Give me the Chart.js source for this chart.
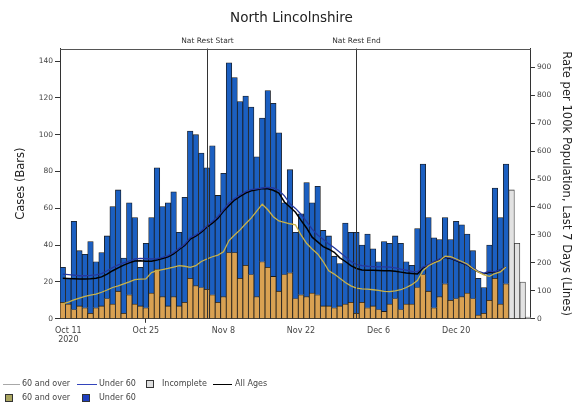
<!DOCTYPE html>
<html><head><meta charset="utf-8">
<script src="https://cdn.jsdelivr.net/npm/chart.js@4.4.1/dist/chart.umd.min.js"></script>
<style>
html,body{margin:0;padding:0;background:#fff;}
#wrap{position:relative;width:573px;height:410px;}
#legend{position:absolute;left:0;top:0;width:573px;height:410px;pointer-events:none;font-family:"DejaVu Sans",sans-serif;font-size:8px;color:#444;}
#legend span{position:absolute;white-space:nowrap;line-height:10px;}
.ln{position:absolute;height:0;}
.sq{position:absolute;width:6px;height:6px;border:1px solid #333;}
</style></head><body>
<div id="wrap"><canvas id="c"></canvas>
<div id="legend">
  <div class="ln" style="left:3px;top:384px;width:17px;border-top:1px solid #a8a8a8"></div><span style="left:22px;top:379px">60 and over</span>
  <div class="ln" style="left:77px;top:384px;width:20px;border-top:1px solid #3344bb"></div><span style="left:99px;top:379px">Under 60</span>
  <div class="sq" style="left:146px;top:380px;background:#dedede"></div><span style="left:162px;top:379px">Incomplete</span>
  <div class="ln" style="left:213px;top:384px;width:19px;border-top:1.5px solid #000"></div><span style="left:235px;top:379px">All Ages</span>
  <div class="sq" style="left:5px;top:394px;background:#aaa660"></div><span style="left:22px;top:393px">60 and over</span>
  <div class="sq" style="left:82px;top:394px;background:#1f3fc0"></div><span style="left:99px;top:393px">Under 60</span>
</div>
</div>
<script>
// Categories: one per day starting 2020-10-10
const startDate = [2020, 9, 10];
const nDays = 85;
const categories = Array.from({length: nDays}, (_, i) =>
  new Date(Date.UTC(startDate[0], startDate[1], startDate[2] + i)).toISOString().slice(0, 10));

// Daily cases (bars)
const casesOver60 = [9,8,5,7,6,3,6,7,11,8,15,3,13,8,7,6,14,27,12,7,12,7,9,22,18,17,16,13,9,12,
  36,36,22,29,24,12,31,28,23,15,24,25,11,13,12,14,13,7,7,6,7,8,9,3,9,6,7,5,4,8,
  11,5,8,8,17,24,15,6,12,19,10,11,12,14,11,2,3,10,22,8,19,null,null,null,null];
const casesUnder60 = [19,14,48,30,29,39,25,29,34,53,55,30,50,47,21,35,41,55,49,56,57,40,57,80,82,73,66,81,58,67,
  103,95,96,92,91,76,78,96,94,86,39,56,36,44,62,49,59,41,38,28,23,44,38,44,31,40,31,26,38,33,
  34,36,23,21,32,60,40,38,31,36,33,42,39,32,26,20,14,30,49,47,65,null,null,null,null];
const casesIncomplete = [null,null,null,null,null,null,null,null,null,null,null,null,null,null,null,null,null,null,null,null,
  null,null,null,null,null,null,null,null,null,null,null,null,null,null,null,null,null,null,null,null,
  null,null,null,null,null,null,null,null,null,null,null,null,null,null,null,null,null,null,null,null,
  null,null,null,null,null,null,null,null,null,null,null,null,null,null,null,null,null,null,null,null,
  null,70,41,20,1];

// Rate per 100k, last 7 days (lines)
const rateOver60 = [53,60,68,74,80,85,88,95,103,112,118,125,132,140,142,143,165,172,176,180,
  185,190,188,184,190,205,214,222,228,240,280,300,318,340,360,385,410,390,365,350,
  345,340,336,300,270,250,232,205,172,160,145,130,118,110,107,106,104,102,98,97,
  100,104,112,122,137,172,190,200,208,224,222,214,205,196,180,168,157,152,162,168,185];
const rateUnder60 = [160,158,156,154,154,155,157,162,172,183,193,200,206,214,216,215,214,215,220,226,
  237,252,267,290,300,314,332,348,366,390,414,430,443,455,462,465,468,470,468,460,
  440,412,395,374,348,321,300,285,268,254,238,222,205,195,190,188,187,186,186,185,
  182,178,174,170,168,185,194,206,214,222,218,210,203,193,182,170,163,170,168,176,185];
const rateAllAges = [145,144,143,142,142,143,145,150,160,172,182,192,200,207,208,206,206,210,216,222,
  232,248,262,285,296,310,328,342,360,385,405,425,438,450,458,462,466,465,460,450,
  418,400,381,352,325,292,275,258,249,238,218,205,190,180,175,174,174,173,172,172,
  170,167,164,162,160,182,192,203,212,220,216,208,200,192,180,168,160,166,167,175,185];

// Tick labels and events
const xTickDates = ['2020-10-11','2020-10-25','2020-11-08','2020-11-22','2020-12-06','2020-12-20'];
const xTickLabels = [['Oct 11','2020'],'Oct 25','Nov 8','Nov 22','Dec 6','Dec 20'];
const eventDates = ['2020-11-05','2020-12-02'];
const eventLabels = ['Nat Rest Start','Nat Rest End'];

const FONT = '"DejaVu Sans", sans-serif';

const framePlugin = {
  id: 'frame',
  afterDatasetsDraw(chart) {
    const {ctx, chartArea: {top, bottom, left, right}, scales: {x}} = chart;
    ctx.save();
    eventDates.forEach((d, k) => {
      const px = Math.round(x.getPixelForValue(categories.indexOf(d))) + 0.5;
      ctx.strokeStyle = '#333';
      ctx.lineWidth = 1;
      ctx.beginPath(); ctx.moveTo(px, top); ctx.lineTo(px, bottom); ctx.stroke();
      ctx.fillStyle = '#333';
      ctx.font = '7.5px ' + FONT;
      ctx.textAlign = 'center';
      ctx.textBaseline = 'bottom';
      ctx.fillText(eventLabels[k], px, top - 4);
    });
    ctx.strokeStyle = '#555';
    ctx.lineWidth = 1;
    ctx.beginPath();
    ctx.moveTo(left, Math.round(top) + 0.5);
    ctx.lineTo(right, Math.round(top) + 0.5);
    ctx.stroke();
    ctx.restore();
  }
};

const barCommon = {
  type: 'bar', yAxisID: 'y', stack: 'cases', order: 2,
  borderColor: '#1a1a1a', borderWidth: 0.8,
  barPercentage: 1, categoryPercentage: 1
};
const lineCommon = {
  type: 'line', yAxisID: 'y1', order: 0, pointRadius: 0, borderWidth: 1.3, tension: 0, fill: false
};

new Chart(document.getElementById('c'), {
  type: 'bar',
  data: {
    labels: categories,
    datasets: [
      Object.assign({}, barCommon, {label: '60 and over', data: casesOver60, backgroundColor: '#d9a152'}),
      Object.assign({}, barCommon, {label: 'Under 60', data: casesUnder60, backgroundColor: '#1b5fc1'}),
      Object.assign({}, barCommon, {label: 'Incomplete', data: casesIncomplete, backgroundColor: '#e2e2e2', borderColor: '#333'}),
      Object.assign({}, lineCommon, {label: '60 and over rate', data: rateOver60, borderColor: '#c8b24a'}),
      Object.assign({}, lineCommon, {label: 'Under 60 rate', data: rateUnder60, borderColor: '#24389f'}),
      Object.assign({}, lineCommon, {label: 'All Ages', data: rateAllAges, borderColor: '#000000', borderWidth: 1.5})
    ]
  },
  options: {
    responsive: true,
    maintainAspectRatio: false,
    animation: false,
    layout: {padding: {left: 10, right: 0, top: 0, bottom: 62}},
    plugins: {
      legend: {display: false},
      tooltip: {enabled: false},
      title: {
        display: true, text: 'North Lincolnshire', color: '#222',
        font: {family: FONT, size: 13.5, weight: 'normal'},
        padding: {top: 10, bottom: 22.3}
      }
    },
    scales: {
      x: {
        type: 'category', stacked: true, offset: true,
        grid: {offset: false, drawOnChartArea: false, tickLength: 4,
          tickColor: (c) => (c.index !== undefined && xTickDates.includes(categories[c.index])) ? '#333' : 'rgba(0,0,0,0)'},
        border: {display: true, color: '#333'},
        ticks: {
          autoSkip: false, maxRotation: 0, minRotation: 0, padding: 3,
          color: '#444', font: {family: FONT, size: 8},
          callback: (v, i) => { const k = xTickDates.indexOf(categories[i]); return k >= 0 ? xTickLabels[k] : null; }
        }
      },
      y: {
        position: 'left', stacked: true, min: 0, max: 146.8,
        grid: {drawOnChartArea: false, tickLength: 5, tickColor: '#333'},
        border: {display: true, color: '#333'},
        ticks: {stepSize: 20, includeBounds: false, padding: 2, color: '#444', font: {family: FONT, size: 7.5}},
        title: {display: true, text: 'Cases (Bars)', color: '#222', font: {family: FONT, size: 11.5},
          padding: {top: 4.1, bottom: 8.8}}
      },
      y1: {
        position: 'right', stacked: false, min: 0, max: 967,
        grid: {drawOnChartArea: false, tickLength: 4, tickColor: '#333'},
        border: {display: true, color: '#333'},
        ticks: {stepSize: 100, includeBounds: false, padding: 2, color: '#444', font: {family: FONT, size: 7.5}},
        title: {display: true, text: 'Rate per 100k Population, Last 7 Days (Lines)', color: '#222',
          font: {family: FONT, size: 11.6}, padding: {top: 0, bottom: 5.8}}
      }
    }
  },
  plugins: [framePlugin]
});
</script>
</body></html>
